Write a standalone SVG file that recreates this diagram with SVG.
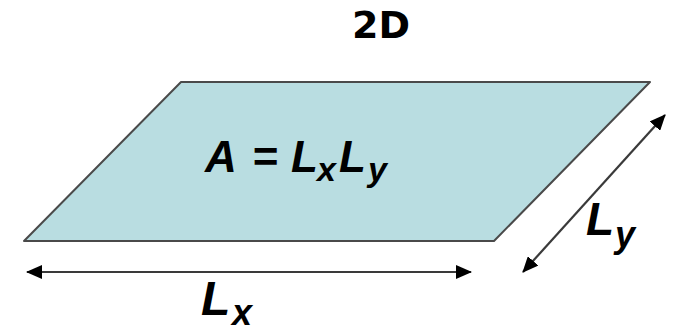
<svg xmlns="http://www.w3.org/2000/svg" width="673" height="329" viewBox="0 0 673 329">
<style>
.t{font-family:"Liberation Sans",Arial,sans-serif;font-weight:bold;font-style:italic;fill:#000}
.ttl{font-family:"DejaVu Sans",Verdana,sans-serif;font-weight:bold;fill:#000}
.conn{stroke:#3a3a3a;stroke-width:2.2;fill:none}
</style>
<defs>
<marker id="ah" viewBox="0 0 16 14" refX="15" refY="7" markerWidth="16" markerHeight="14" markerUnits="userSpaceOnUse" orient="auto-start-reverse">
<path d="M0,0 L16,7 L0,14 Z" fill="#000"/>
</marker>
</defs>
<rect width="673" height="329" fill="#fff"/>
<text class="ttl" x="381" y="38" font-size="38" text-anchor="middle">2D</text>
<g id="plane">
<polygon points="181,82 650,82 494,241 24,241" fill="#b9dde1" stroke="#4a4a4a" stroke-width="2" stroke-linejoin="round"/>
<text class="t" font-size="44" y="172"><tspan x="205">A</tspan><tspan x="252">=</tspan><tspan x="291">L</tspan><tspan x="317" y="181" font-size="34">x</tspan><tspan x="339" y="172">L</tspan><tspan x="368" y="181" font-size="34">y</tspan></text>
</g>
<g id="connectors">
<line class="conn" x1="27" y1="272" x2="471" y2="272" marker-start="url(#ah)" marker-end="url(#ah)"/>
<line class="conn" x1="523" y1="272" x2="665" y2="115" marker-start="url(#ah)" marker-end="url(#ah)"/>
</g>
<g id="label-lx">
<text class="t" font-size="48" y="315"><tspan x="201">L</tspan><tspan x="232" y="325" font-size="36">x</tspan></text>
</g>
<g id="label-ly">
<text class="t" font-size="46" y="235"><tspan x="586">L</tspan><tspan x="615" y="247" font-size="36">y</tspan></text>
</g>
</svg>
